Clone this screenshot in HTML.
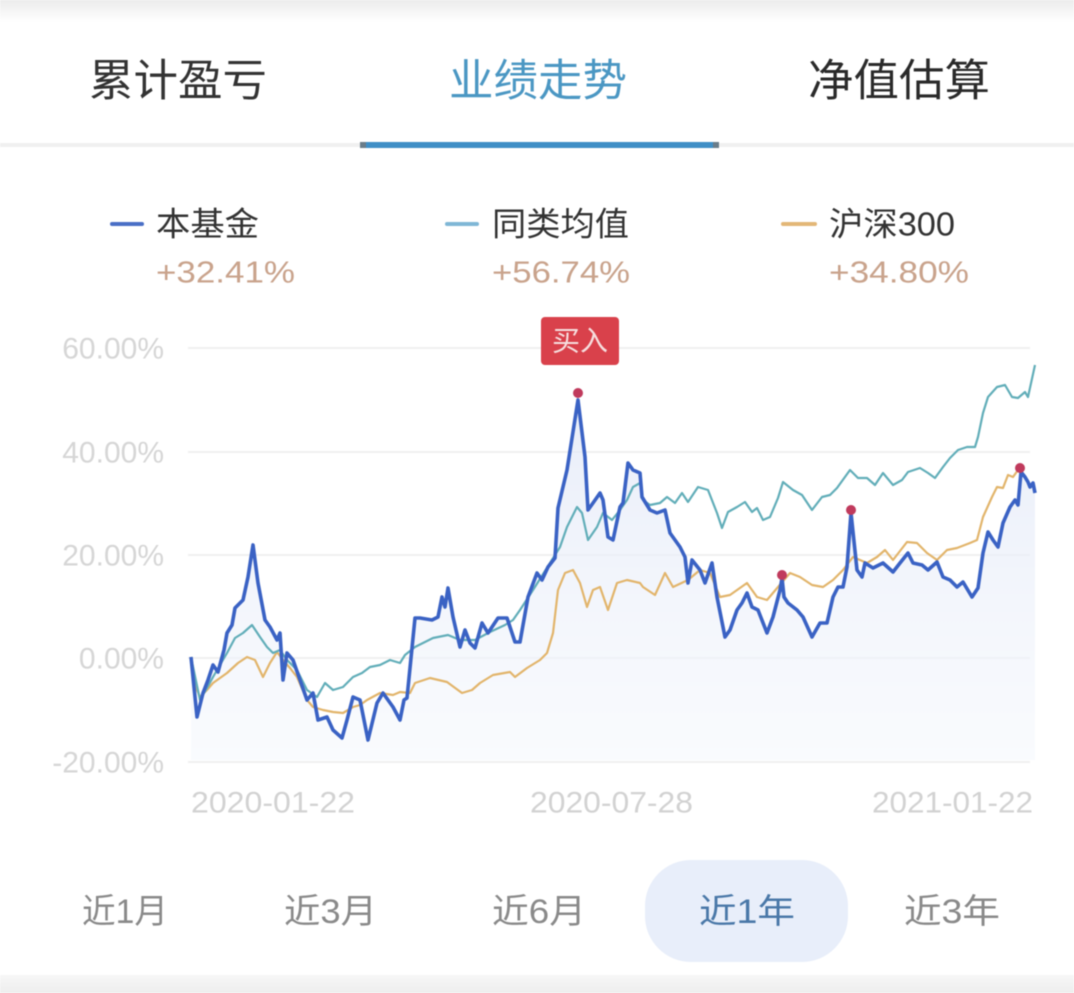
<!DOCTYPE html>
<html><head><meta charset="utf-8"><style>
html,body{margin:0;padding:0;background:#fff;width:1074px;height:993px;overflow:hidden}
svg{display:block;filter:blur(0.6px)}
text{font-family:"Liberation Sans","Noto Sans CJK SC",sans-serif}
</style></head><body>
<svg width="1074" height="993" viewBox="0 0 1074 993" xmlns="http://www.w3.org/2000/svg">
<defs>
<linearGradient id="topg" x1="0" y1="0" x2="0" y2="1"><stop offset="0" stop-color="#ececec"/><stop offset="1" stop-color="#ffffff"/></linearGradient>
<linearGradient id="botg" x1="0" y1="0" x2="0" y2="1"><stop offset="0" stop-color="#f7f7f7"/><stop offset="1" stop-color="#eeeeee"/></linearGradient>
<linearGradient id="fillg" x1="0" y1="0" x2="0" y2="1"><stop offset="0" stop-color="#e2e8f7" stop-opacity="0.75"/><stop offset="1" stop-color="#f5f8fd" stop-opacity="0.55"/></linearGradient>
</defs>
<rect x="0" y="0" width="1074" height="993" fill="#fff"/>
<rect x="0" y="0" width="1074" height="22" fill="url(#topg)"/>
<!-- tabs -->
<text x="89" y="81" font-size="44" fill="#333" dominant-baseline="central" textLength="178" lengthAdjust="spacingAndGlyphs">累计盈亏</text>
<text x="449" y="81" font-size="44" fill="#4b97c3" dominant-baseline="central" textLength="178" lengthAdjust="spacingAndGlyphs">业绩走势</text>
<text x="808" y="81" font-size="44" fill="#2a2a2a" dominant-baseline="central" textLength="182" lengthAdjust="spacingAndGlyphs">净值估算</text>
<rect x="0" y="143" width="1074" height="4" fill="#f0f0f0"/>
<rect x="360" y="142" width="359" height="6" fill="#3f8fc6"/>
<rect x="360" y="142" width="6" height="6" fill="#6a7d8a"/>
<rect x="713" y="142" width="6" height="6" fill="#6a7d8a"/>
<!-- legend -->
<rect x="110" y="222" width="34" height="4" rx="2" fill="#4a6fc6"/>
<text x="156" y="224" font-size="33" fill="#333" dominant-baseline="central" textLength="103" lengthAdjust="spacingAndGlyphs">本基金</text>
<text x="156" y="272" font-size="31" fill="#c9a38c" dominant-baseline="central" textLength="139" lengthAdjust="spacingAndGlyphs">+32.41%</text>
<rect x="445" y="222" width="34" height="4" rx="2" fill="#7fb7d6"/>
<text x="492" y="224" font-size="33" fill="#333" dominant-baseline="central" textLength="137" lengthAdjust="spacingAndGlyphs">同类均值</text>
<text x="492" y="272" font-size="31" fill="#c9a38c" dominant-baseline="central" textLength="138" lengthAdjust="spacingAndGlyphs">+56.74%</text>
<rect x="781" y="222" width="36" height="4" rx="2" fill="#e3b777"/>
<text x="829" y="224" font-size="33" fill="#333" dominant-baseline="central" textLength="126" lengthAdjust="spacingAndGlyphs">沪深300</text>
<text x="829" y="272" font-size="31" fill="#c9a38c" dominant-baseline="central" textLength="140" lengthAdjust="spacingAndGlyphs">+34.80%</text>
<!-- grid -->
<g stroke="#f0f0f0" stroke-width="2">
<line x1="188" y1="348" x2="1030" y2="348"/>
<line x1="188" y1="452" x2="1030" y2="452"/>
<line x1="188" y1="555" x2="1030" y2="555"/>
<line x1="188" y1="658" x2="1030" y2="658"/>
<line x1="188" y1="762" x2="1030" y2="762"/>
</g>
<g font-size="30" fill="#d6d6d6" text-anchor="end" dominant-baseline="central">
<text x="164" y="349">60.00%</text>
<text x="164" y="453">40.00%</text>
<text x="164" y="556">20.00%</text>
<text x="164" y="659">0.00%</text>
<text x="164" y="763">-20.00%</text>
</g>
<g font-size="30" fill="#d2d2d2" dominant-baseline="central">
<text x="191" y="803" textLength="164" lengthAdjust="spacingAndGlyphs">2020-01-22</text>
<text x="530" y="803" textLength="163" lengthAdjust="spacingAndGlyphs">2020-07-28</text>
<text x="872" y="803" textLength="161" lengthAdjust="spacingAndGlyphs">2021-01-22</text>
</g>
<!-- area fill under blue -->
<path fill="url(#fillg)" d="M191,657 L197,717 L203,693 L208,680 L213,665 L218,672 L224,650 L227,633 L232,625 L235,608 L243,600 L248,577 L253,545 L258,583 L265,620 L270,627 L277,640 L280,633 L283,680 L287,653 L293,660 L300,680 L307,700 L313,693 L318,720 L327,717 L333,730 L342,738 L347,720 L353,697 L360,700 L368,740 L377,703 L383,693 L393,707 L400,720 L404,700 L407,698 L415,618 L420,618 L432,620 L438,617 L442,597 L445,607 L448,588 L453,617 L460,647 L465,630 L470,643 L475,648 L482,623 L488,633 L492,627 L498,618 L507,618 L515,642 L520,642 L528,597 L537,573 L542,580 L548,567 L555,558 L558,508 L567,470 L578,400 L585,457 L588,510 L593,503 L600,493 L603,500 L608,537 L613,540 L620,507 L623,503 L628,463 L633,470 L640,473 L642,497 L650,510 L657,513 L665,510 L670,533 L680,547 L685,557 L688,583 L692,560 L700,570 L705,583 L712,563 L717,597 L725,637 L730,630 L737,610 L742,603 L747,593 L752,607 L758,610 L767,633 L773,617 L780,590 L782,578 L784,597 L788,603 L797,610 L803,617 L812,637 L820,623 L827,623 L833,597 L838,587 L843,587 L847,567 L851,513 L857,570 L862,577 L865,563 L873,568 L883,563 L893,572 L900,563 L908,553 L913,563 L922,565 L928,570 L937,562 L943,577 L950,580 L957,587 L963,582 L972,597 L978,588 L983,553 L988,532 L993,540 L998,547 L1003,523 L1010,507 L1015,500 L1018,505 L1021,472 L1025,477 L1028,482 L1030,487 L1033,483 L1035,493 L1035,760 L191,760 Z"/>
<!-- orange -->
<path fill="none" stroke="#e2b56c" stroke-width="2.2" stroke-linejoin="round" d="M191,657 L197,690 L200,697 L207,690 L213,683 L220,678 L227,673 L238,663 L247,657 L255,660 L263,677 L270,663 L277,652 L283,660 L290,668 L297,677 L307,700 L313,707 L323,710 L333,712 L343,713 L353,707 L360,705 L367,700 L380,693 L393,695 L400,692 L410,693 L415,683 L430,678 L447,682 L462,693 L472,690 L480,683 L493,675 L510,672 L515,677 L527,668 L540,660 L547,653 L553,633 L558,590 L565,573 L573,570 L580,583 L587,607 L593,590 L600,587 L608,610 L617,583 L627,580 L640,583 L643,587 L655,595 L665,573 L673,587 L688,580 L700,570 L710,573 L720,597 L730,595 L747,583 L757,597 L767,600 L778,587 L790,573 L800,577 L812,585 L823,587 L833,580 L843,570 L853,557 L867,563 L877,557 L885,550 L893,560 L907,542 L917,543 L927,553 L937,560 L947,550 L957,548 L970,543 L977,540 L983,517 L992,497 L997,487 L1003,488 L1008,475 L1013,477 L1018,470"/>
<!-- teal -->
<path fill="none" stroke="#62aeb9" stroke-width="2.2" stroke-linejoin="round" d="M191,657 L200,700 L207,688 L213,677 L220,665 L227,653 L235,638 L243,633 L252,625 L260,637 L267,647 L273,653 L280,650 L287,660 L297,670 L307,690 L317,697 L325,683 L333,690 L343,687 L353,677 L362,673 L370,667 L380,665 L390,660 L400,663 L405,655 L415,647 L433,638 L448,635 L460,640 L475,640 L490,632 L505,625 L513,620 L520,610 L533,590 L550,563 L560,547 L567,527 L577,507 L582,513 L588,540 L597,527 L603,513 L612,520 L620,510 L627,500 L633,487 L640,483 L643,500 L650,505 L660,503 L667,497 L675,503 L682,493 L688,502 L698,487 L708,490 L717,513 L722,528 L728,512 L737,507 L745,502 L752,512 L757,508 L763,520 L770,517 L778,498 L783,482 L793,490 L802,495 L812,510 L822,497 L830,495 L837,488 L850,470 L858,478 L867,478 L875,485 L883,473 L893,485 L902,480 L908,472 L920,468 L928,473 L935,478 L943,467 L950,458 L958,450 L967,447 L975,447 L978,437 L983,413 L988,397 L997,387 L1005,385 L1012,397 L1018,398 L1025,392 L1028,397 L1035,365"/>
<!-- blue -->
<path fill="none" stroke="#3a62c4" stroke-width="3.6" stroke-linejoin="round" d="M191,657 L197,717 L203,693 L208,680 L213,665 L218,672 L224,650 L227,633 L232,625 L235,608 L243,600 L248,577 L253,545 L258,583 L265,620 L270,627 L277,640 L280,633 L283,680 L287,653 L293,660 L300,680 L307,700 L313,693 L318,720 L327,717 L333,730 L342,738 L347,720 L353,697 L360,700 L368,740 L377,703 L383,693 L393,707 L400,720 L404,700 L407,698 L415,618 L420,618 L432,620 L438,617 L442,597 L445,607 L448,588 L453,617 L460,647 L465,630 L470,643 L475,648 L482,623 L488,633 L492,627 L498,618 L507,618 L515,642 L520,642 L528,597 L537,573 L542,580 L548,567 L555,558 L558,508 L567,470 L578,400 L585,457 L588,510 L593,503 L600,493 L603,500 L608,537 L613,540 L620,507 L623,503 L628,463 L633,470 L640,473 L642,497 L650,510 L657,513 L665,510 L670,533 L680,547 L685,557 L688,583 L692,560 L700,570 L705,583 L712,563 L717,597 L725,637 L730,630 L737,610 L742,603 L747,593 L752,607 L758,610 L767,633 L773,617 L780,590 L782,578 L784,597 L788,603 L797,610 L803,617 L812,637 L820,623 L827,623 L833,597 L838,587 L843,587 L847,567 L851,513 L857,570 L862,577 L865,563 L873,568 L883,563 L893,572 L900,563 L908,553 L913,563 L922,565 L928,570 L937,562 L943,577 L950,580 L957,587 L963,582 L972,597 L978,588 L983,553 L988,532 L993,540 L998,547 L1003,523 L1010,507 L1015,500 L1018,505 L1021,472 L1025,477 L1028,482 L1030,487 L1033,483 L1035,493"/>
<!-- buy dots -->
<g fill="#c03a5c">
<circle cx="578" cy="393" r="5"/>
<circle cx="782" cy="575" r="5"/>
<circle cx="851" cy="510" r="5"/>
<circle cx="1020" cy="468" r="5"/>
</g>
<!-- buy label -->
<rect x="541" y="317" width="78" height="48" rx="4" fill="#d9414b"/>
<text x="580" y="341" font-size="28" fill="#f6dede" text-anchor="middle" dominant-baseline="central">买入</text>
<!-- range buttons -->
<rect x="645" y="860" width="203" height="102" rx="46" fill="#e8eefa"/>
<g font-size="34" fill="#8a8a8a" dominant-baseline="central">
<text x="82" y="912" textLength="86" lengthAdjust="spacingAndGlyphs">近1月</text>
<text x="284" y="912" textLength="93" lengthAdjust="spacingAndGlyphs">近3月</text>
<text x="492" y="912" textLength="94" lengthAdjust="spacingAndGlyphs">近6月</text>
<text x="699" y="912" textLength="96" lengthAdjust="spacingAndGlyphs" fill="#4a78a8">近1年</text>
<text x="904" y="912" textLength="96" lengthAdjust="spacingAndGlyphs">近3年</text>
</g>
<rect x="0" y="975" width="1074" height="18" fill="url(#botg)"/>
</svg>
</body></html>
